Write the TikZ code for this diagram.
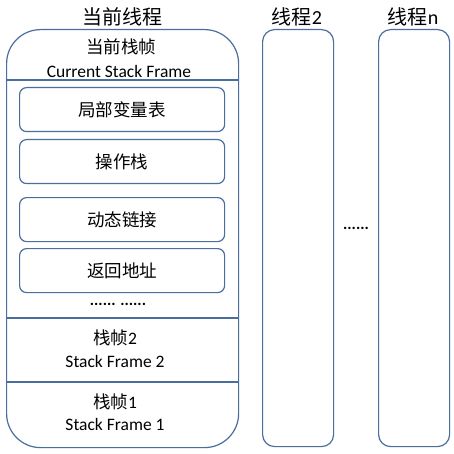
\documentclass[tikz,border=0pt]{standalone}
\usepackage{fontspec}
\setmainfont{Carlito}
\newfontfamily\cjk{Noto Sans CJK SC}
\begin{document}
\begin{tikzpicture}[x=1pt,y=-1pt,
  edge/.style={draw=framec,line width=1.2pt},
  thread/.style={edge,rounded corners=12pt,minimum width=71pt,minimum height=417pt,anchor=north west,inner sep=0pt},
  slot/.style={edge,rounded corners=7pt,minimum width=205pt,minimum height=44pt,anchor=north west,inner sep=0pt,font=\cjk\fontsize{17.5}{19}\selectfont},
  title/.style={font=\cjk\fontsize{20}{22}\selectfont,inner sep=0pt},
  cn/.style={font=\cjk\fontsize{17.5}{19}\selectfont,inner sep=0pt},
  en/.style={font=\fontsize{17.5}{19}\selectfont,inner sep=0pt},
  dots/.style={font=\fontsize{16}{18}\selectfont\bfseries,inner sep=0pt}]
\definecolor{framec}{HTML}{4A6E9E}
\useasboundingbox (0,0) rectangle (453,454);
\fill[white] (0,0) rectangle (453,454);
% main thread
\node[edge,rounded corners=34pt,minimum width=232pt,minimum height=418pt,anchor=north west,inner sep=0pt] (main) at (6,29) {};
\node[title] (t1) at (122,17) {当前线程};
\node[cn] (cur) at (121,47) {当前栈帧};
\node[en] (curen) at (119,71) {Current Stack Frame};
\coordinate (l1w) at (6,80); \coordinate (l1e) at (238,80);
\draw[edge] (l1w) -- (l1e);
\node[slot] (s1) at (19,87) {局部变量表};
\node[slot] (s2) at (19,139) {操作栈};
\node[slot] (s3) at (19,197) {动态链接};
\node[slot] (s4) at (19,248) {返回地址};
\node[dots] (d1) at (118,304) {...... ......};
\coordinate (l2w) at (6,318); \coordinate (l2e) at (238,318);
\draw[edge] (l2w) -- (l2e);
\node[cn] (f2) at (115,338) {栈帧{\fontspec{Carlito}2}};
\node[en] (f2en) at (115,361) {Stack Frame 2};
\coordinate (l3w) at (6,382); \coordinate (l3e) at (238,382);
\draw[edge] (l3w) -- (l3e);
\node[cn] (f1) at (115,402) {栈帧{\fontspec{Carlito}1}};
\node[en] (f1en) at (115,424) {Stack Frame 1};
% other threads
\node[thread] (th2) at (262,29) {};
\node[title] (t2) at (297,17) {线程{\fontspec{Carlito}2}};
\node[dots] (d2) at (356,228) {......};
\node[thread] (thn) at (378,29) {};
\node[title] (tn) at (413,17) {线程{\fontspec{Carlito}n}};
\end{tikzpicture}
\end{document}
